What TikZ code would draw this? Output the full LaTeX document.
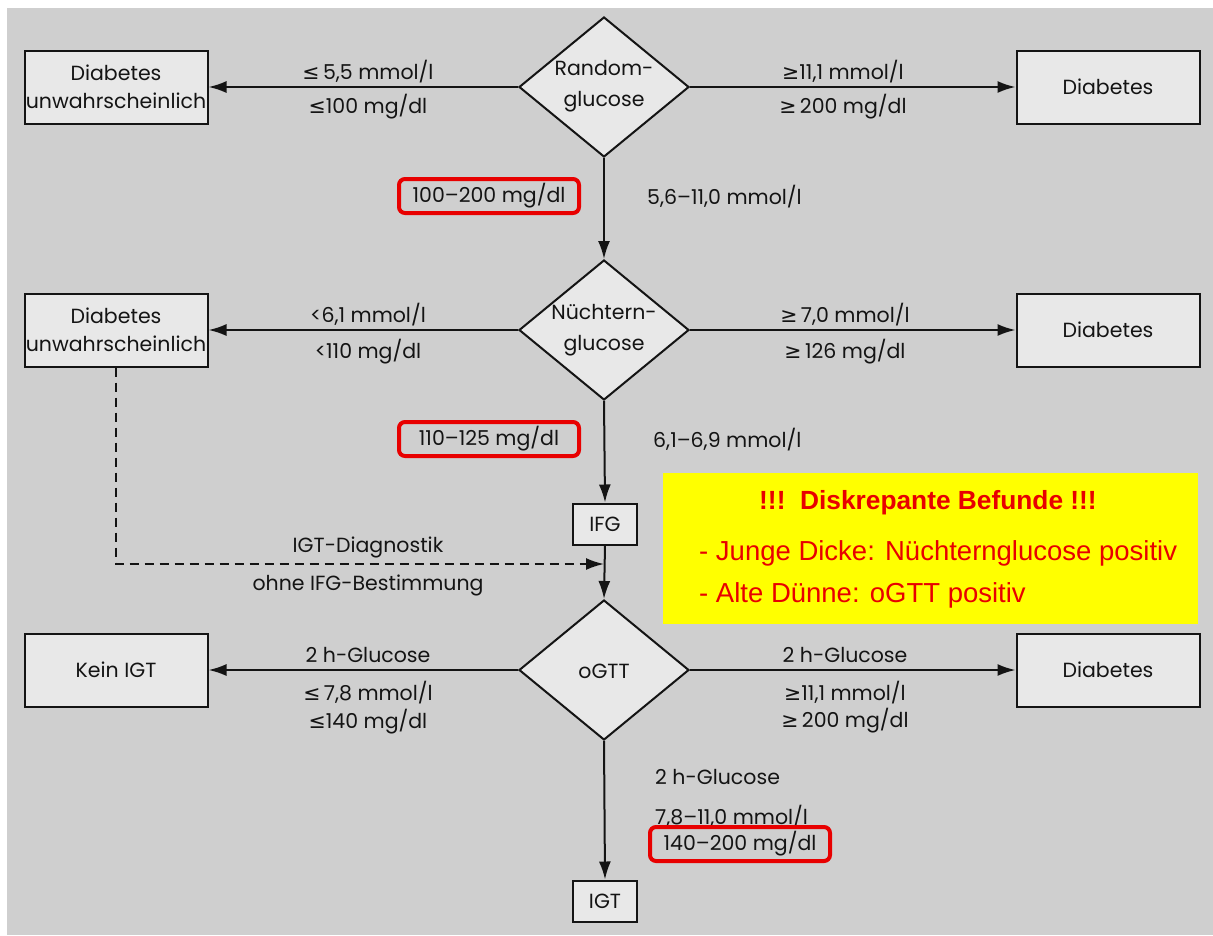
\documentclass[tikz,border=0pt]{standalone}
\usepackage{fontspec}
\setmainfont{Poppins}
\newfontfamily\arial{Liberation Sans}
\newfontfamily\sym{DejaVu Sans}
\usetikzlibrary{arrows.meta,shapes.geometric}
\definecolor{bg}{RGB}{207,207,207}
\definecolor{boxfill}{RGB}{232,232,232}
\definecolor{ink}{RGB}{20,20,20}
\definecolor{hl}{RGB}{232,0,0}
\definecolor{yel}{RGB}{255,255,0}
\begin{document}
\begin{tikzpicture}[x=1pt,y=-1pt,
  box/.style={draw=ink,line width=2pt,fill=boxfill,minimum width=183pt,minimum height=73pt,align=center,inner sep=0pt,text=ink,font=\fontsize{20.5}{28}\selectfont},
  smallbox/.style={draw=ink,line width=2pt,fill=boxfill,minimum width=64pt,minimum height=41pt,inner sep=0pt,text=ink,font=\fontsize{20.5}{28}\selectfont},
  dia/.style={draw=ink,line width=2pt,fill=boxfill,diamond,aspect=1.2143,minimum width=170pt,minimum height=140pt,inner sep=0pt},
  diatext/.style={align=center,inner sep=0pt,text=ink,font=\fontsize{20.5}{31}\selectfont},
  arr/.style={draw=ink,line width=2pt,-{Latex[length=18pt,width=12pt]}},
  lbl/.style={font=\fontsize{20.5}{24}\selectfont,inner sep=0pt,text=ink},
  redbox/.style={draw=hl,line width=4pt,rounded corners=6pt,minimum width=180pt,minimum height=34pt},
  ytitle/.style={font=\arial\bfseries\fontsize{26.3}{30}\selectfont,text=hl,inner sep=0pt},
  yline/.style={font=\arial\fontsize{27.5}{30}\selectfont,text=hl,inner sep=0pt,anchor=west}]
\useasboundingbox (0,0) rectangle (1213,935);
\fill[white] (0,0) rectangle (1213,935);
\fill[bg] (7,8) rectangle (1213,935);

% row 1
\node[dia] (r1) at (604,87) {};
\node[diatext] (r1t) at (604,86) {Random-\\glucose};
\node[box] (l1) at (116,87) {Diabetes\\unwahrscheinlich};
\node[box] (d1) at (1108,87) {Diabetes};
\draw[arr] (r1.west) -- (l1.east);
\draw[arr] (r1.east) -- (d1.west);
\node[lbl] (a1) at (368,72) {{\sym ≤}\,5,5 mmol/l};
\node[lbl] (a2) at (368,107) {{\sym ≤}100 mg/dl};
\node[lbl] (a3) at (843,72) {{\sym ≥}11,1 mmol/l};
\node[lbl] (a4) at (843,107) {{\sym ≥}\,200 mg/dl};
\node[lbl,redbox] (h1) at (489,196) {100–200 mg/dl};
\node[lbl,anchor=west] (a5) at (647,197) {5,6–11,0 mmol/l};

% row 2
\node[dia] (r2) at (604,330) {};
\node[diatext] (r2t) at (604,330) {Nüchtern-\\glucose};
\node[box] (l2) at (116,330) {Diabetes\\unwahrscheinlich};
\node[box] (d2) at (1108,330) {Diabetes};
\draw[arr] (r1.south) -- (r2.north);
\draw[arr] (r2.west) -- (l2.east);
\draw[arr] (r2.east) -- (d2.west);
\node[lbl] (b1) at (368,315) {<6,1 mmol/l};
\node[lbl] (b2) at (368,352) {<110 mg/dl};
\node[lbl] (b3) at (845,315) {{\sym ≥}\,7,0 mmol/l};
\node[lbl] (b4) at (845,352) {{\sym ≥}\,126 mg/dl};
\node[lbl,redbox] (h2) at (489,439) {110–125 mg/dl};
\node[lbl,anchor=west] (b5) at (653,440) {6,1–6,9 mmol/l};

% IFG
\node[smallbox] (ifg) at (605,524) {IFG};
\draw[arr] (r2.south) -- (ifg.north);
\coordinate (j) at (604,564);

% row 3
\node[dia] (r3) at (604,670) {};
\node[diatext] (r3t) at (604,671) {oGTT};
\node[box] (l3) at (116,670) {Kein IGT};
\node[box] (d3) at (1108,670) {Diabetes};
\draw[arr] (r3.west) -- (l3.east);
\draw[arr] (r3.east) -- (d3.west);
\draw[arr] (ifg.south) -- (r3.north);
\draw[arr,dash pattern=on 9pt off 6pt] (l2.south) |- (j);
\node[lbl] (c0) at (368,547) {IGT-Diagnostik};
\node[lbl] (c00) at (368,585) {ohne IFG-Bestimmung};
\node[lbl] (c1) at (368,655) {2 h-Glucose};
\node[lbl] (c2) at (368,693) {{\sym ≤}\,7,8 mmol/l};
\node[lbl] (c3) at (368,722) {{\sym ≤}140 mg/dl};
\node[lbl] (c4) at (845,655) {2 h-Glucose};
\node[lbl] (c5) at (845,693) {{\sym ≥}11,1 mmol/l};
\node[lbl] (c6) at (845,721) {{\sym ≥}\,200 mg/dl};

% IGT
\node[smallbox] (igt) at (605,901) {IGT};
\draw[arr] (r3.south) -- (igt.north);
\node[lbl,anchor=west] (e1) at (655,777) {2 h-Glucose};
\node[lbl,anchor=west] (e2) at (655,817) {7,8–11,0 mmol/l};
\node[lbl,redbox] (h3) at (740,844) {140–200 mg/dl};

% yellow note
\node[fill=yel,minimum width=535pt,minimum height=151pt,inner sep=0pt] (yb) at (930.5,548.5) {};
\node[ytitle] (y1) at (928,503) {!!!\ \ Diskrepante Befunde !!!};
\node[yline] (y2) at (699,553) {- Junge Dicke: Nüchternglucose positiv};
\node[yline] (y3) at (699,595) {- Alte Dünne: oGTT positiv};
\end{tikzpicture}
\end{document}
